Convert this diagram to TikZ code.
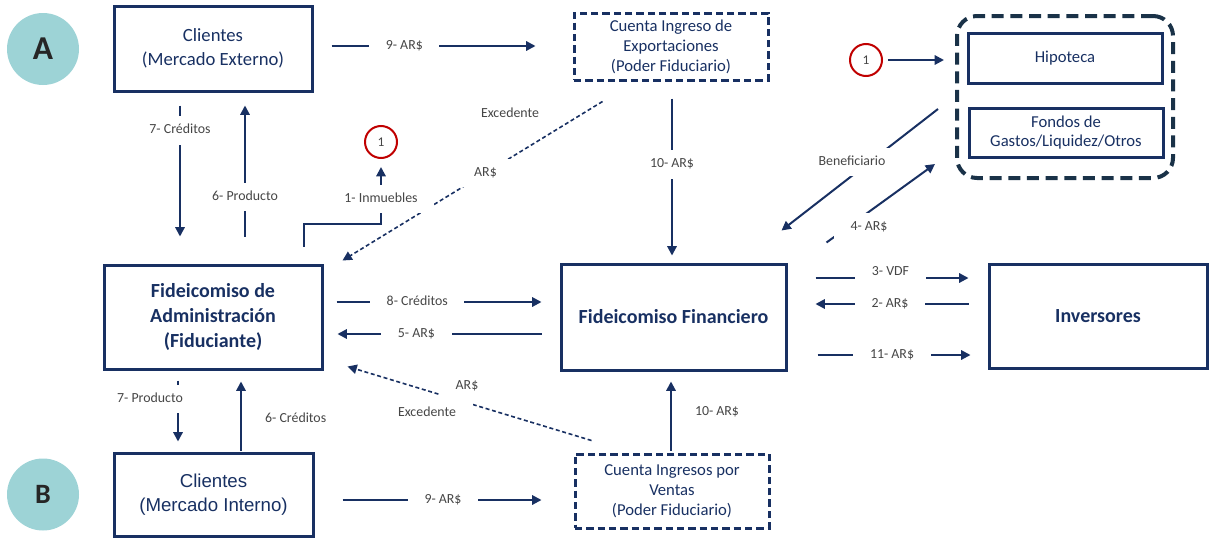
\documentclass[tikz,border=0pt]{standalone}
\usepackage{fontspec}
\setmainfont{Carlito}
\newfontfamily\arialfont{Liberation Sans}
\usepackage{tikz}
\usetikzlibrary{arrows.meta}
\usetikzlibrary{calc}
\usepackage{xcolor}

\definecolor{navy}{RGB}{24,48,98}
\definecolor{slate}{RGB}{26,50,72}
\definecolor{lblgray}{RGB}{70,70,70}
\definecolor{teal1}{RGB}{157,211,214}
\definecolor{red1}{RGB}{192,0,0}

\tikzset{
  box/.style={draw=navy, line width=2.25pt, text=navy, align=center, inner sep=0pt},
  mainbox/.style={box, font=\bfseries\fontsize{15}{18.4}\selectfont},
  clibox/.style={box, font=\fontsize{14}{18}\selectfont},
  acctbox/.style={box, dash pattern=on 5.5pt off 3pt, font=\fontsize{12.5}{15}\selectfont},
  fundbox/.style={box, font=\fontsize{12.5}{14.5}\selectfont},
  tag/.style={circle, fill=teal1, minimum size=54pt, inner sep=0pt, text={black!85}},
  circ1/.style={circle, draw=red1, line width=1.5pt, fill=white, minimum size=24pt,
    inner sep=0pt, text=lblgray, font=\fontsize{10}{12}\selectfont},
  flow/.style={draw=navy, line width=1.5pt, -{Triangle[length=7pt,width=7pt]}},
  dflow/.style={flow, line width=1.2pt, dash pattern=on 3pt off 2pt},
  lbl/.style={fill=white, text=lblgray, font=\fontsize{10.4}{12}\selectfont,
    inner xsep=12.5pt, inner ysep=6pt, text height=7.2pt, text depth=2pt}
}

\begin{document}
\begin{tikzpicture}[x=0.75pt,y=-0.75pt]
	\useasboundingbox (0,0) rectangle (1209,539);
	
	\node[tag, font=\bfseries\fontsize{25}{25}\selectfont] (tagA) at (43,49) {A};
	\node[tag, font=\bfseries\fontsize{21}{21}\selectfont] (tagB) at (43,494.5) {B};
	
	\node[clibox, minimum width=148.5pt, minimum height=63.75pt] (ce) at (213,48.5)
		{Clientes\\(Mercado Externo)};
	\node[clibox, font=\arialfont\fontsize{14}{18}\selectfont, minimum width=149.25pt,
		minimum height=62.25pt] (cb) at (213.5,494.5) {Clientes\\(Mercado Interno)};
	
	\node[acctbox, minimum width=145.5pt, minimum height=50.25pt] (cie) at (671,46.5)
		{Cuenta Ingreso de\\Exportaciones\\(Poder Fiduciario)};
	\node[acctbox, minimum width=145.5pt, minimum height=55.5pt] (civ) at (672,491)
		{Cuenta Ingresos por\\Ventas\\(Poder Fiduciario)};
	
	\node[mainbox, minimum width=163.5pt, minimum height=78pt] (fa) at (213,317)
		{Fideicomiso de\\Administración\\(Fiduciante)};
	\node[mainbox, minimum width=168.75pt, minimum height=79.5pt] (ff) at (673.5,317)
		{Fideicomiso Financiero};
	\node[mainbox, minimum width=163.5pt, minimum height=78pt] (inv) at (1098,316)
		{Inversores};
	
	\node[draw=slate, line width=3pt, dash pattern=on 9pt off 5pt, rounded corners=15pt,
		minimum width=162pt, minimum height=121.5pt] (grp) at (1065,97) {};
	\node[fundbox, minimum width=145.5pt, minimum height=37.5pt] (hip) at (1065,58) {Hipoteca};
	\node[fundbox, minimum width=145.5pt, minimum height=36.75pt] (fon) at (1066,132.5)
		{Fondos de\\Gastos/Liquidez/Otros};
	
	\node[circ1] (c1a) at (381,142) {1};
	\node[circ1] (c1b) at (866,60) {1};
	
	% excedentes
	\draw[dflow] ($(cie.south west)+(30,20)$) -- node[lbl,pos=.45] (ars1) {AR\$}
		($(fa.north east)+(19,-3)$);
	\draw[dflow] ($(civ.north west)+(18,-12)$) -- ($(fa.south east)+(24,-4)$);
	
	% circuito A
	\draw[flow] ($(ce.east)+(18,-2.5)$) -- node[lbl,pos=.357] (l9a) {9- AR\$}
		($(cie.west)+(-37,-0.5)$);
	\draw[flow] ($(ce.south)+(-33,13)$) -- node[lbl,pos=.19] (l7a) {7- Créditos}
		($(fa.north)+(-33,-27)$);
	\draw[flow] ($(fa.north)+(32,-27)$) -- node[lbl,pos=.3] (l6a) {6- Producto}
		($(ce.south)+(32,13)$);
	\draw[flow] ($(fa.north)+(91,-17)$) -- ++(0,-23) -| node[lbl,pos=.72] (l1) {1- Inmuebles}
		($(c1a.south)+(0,8)$);
	\draw[flow] ($(cie.south)+(1,17)$) -- node[lbl,pos=.42] (l10a) {10- AR\$}
		($(ff.north)+(-1.5,-7)$);
	
	% fondos
	\draw[flow] ($(grp.west)+(-17,12)$) -- ($(ff.north east)+(-6,-32)$);
	\draw[flow] ($(ff.north east)+(39,-20)$) -- ($(grp.south west)+(-20,-16)$);
	\draw[flow] ($(c1b.east)+(5,0)$) -- ($(grp.west |- c1b)+(-11,0)$);
	
	% fideicomisos e inversores
	\draw[flow] ($(fa.east)+(13,-15)$) -- node[lbl,pos=.394] (l8) {8- Créditos}
		($(ff.west)+(-18,-15)$);
	\draw[flow] ($(ff.west)+(-18,17)$) -- node[lbl,pos=.613] (l5) {5- AR\$}
		($(fa.east)+(14,17)$);
	\draw[flow] ($(ff.east)+(28,-39)$) -- node[lbl,pos=.49,yshift=4.5pt] (l3) {3- VDF}
		($(inv.west)+(-19,-38)$);
	\draw[flow] ($(inv.west)+(-19,-12)$) -- node[lbl,pos=.513] (l2) {2- AR\$}
		($(ff.east)+(28,-13)$);
	\draw[flow] ($(ff.east)+(30,38)$) -- node[lbl,pos=.487] (l11) {11- AR\$}
		($(inv.west)+(-17,39)$);
	
	% circuito B
	\draw[flow] ($(fa.south)+(-35,10)$) -- node[lbl,pos=.3,xshift=-21pt] (l7b) {7- Producto}
		($(cb.north)+(-35.5,-10)$);
	\draw[flow] ($(cb.north)+(27.5,-1)$) -- node[lbl,pos=.46,xshift=41pt] (l6b) {6- Créditos}
		($(fa.south)+(28,11)$);
	\draw[flow] ($(civ.north)+(-1,-2)$) -- node[lbl,pos=.56,xshift=34.5pt] (l10b) {10- AR\$}
		($(ff.south)+(-2.5,10)$);
	\draw[flow] ($(cb.east)+(28,5.5)$) -- node[lbl,pos=.505] (l9b) {9- AR\$}
		($(civ.west)+(-32,9)$);
	
	\node[lbl] (exc1) at (510,114) {Excedente};
	\node[lbl] (benef) at (852,162) {Beneficiario};
	\node[lbl] (l4) at (869,227) {4- AR\$};
	\node[lbl] (ars2) at (467,386) {AR\$};
	\node[lbl] (exc2) at (427,413) {Excedente};
\end{tikzpicture}
\end{document}
